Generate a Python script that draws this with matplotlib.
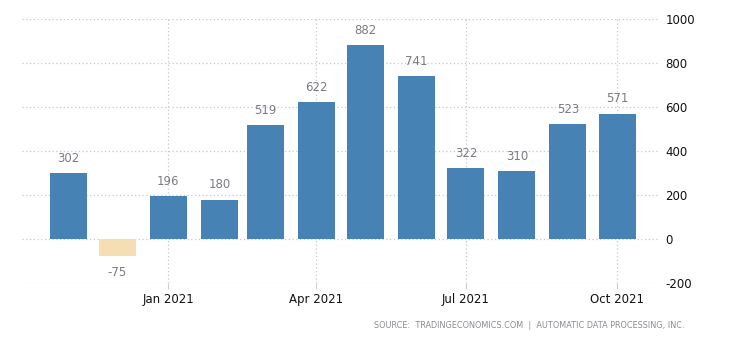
import matplotlib
matplotlib.use("Agg")
import matplotlib.pyplot as plt
import matplotlib.dates as mdates
import datetime as dt

plt.rcParams["axes.unicode_minus"] = False

months = ["2020-11", "2020-12", "2021-01", "2021-02", "2021-03", "2021-04",
          "2021-05", "2021-06", "2021-07", "2021-08", "2021-09", "2021-10"]
values = [302, -75, 196, 180, 519, 622, 882, 741, 322, 310, 523, 571]
tick_months = ["2021-01", "2021-04", "2021-07", "2021-10"]
tick_labels = ["Jan 2021", "Apr 2021", "Jul 2021", "Oct 2021"]
y_ticks = [-200, 0, 200, 400, 600, 800, 1000]
source = "SOURCE:  TRADINGECONOMICS.COM  |  AUTOMATIC DATA PROCESSING, INC."

def to_date(s):
    y, m = s.split("-")
    return dt.date(int(y), int(m), 1)

dates = [to_date(m) for m in months]
xnum = mdates.date2num(dates)
ticks = mdates.date2num([to_date(m) for m in tick_months])

fig = plt.figure(figsize=(7.3, 3.4), dpi=100)
W, H = 730, 340
ax = fig.add_axes([22 / W, (H - 283.3) / H, (660 - 22) / W, (283.3 - 19.3) / H])

colors = ["#4682B4" if v >= 0 else "#F5DEB3" for v in values]
ax.bar(xnum, values, width=22.5, color=colors, zorder=3)

for x, v in zip(xnum, values):
    if v >= 0:
        ax.annotate(str(v), (x, v), xytext=(0, 6), textcoords="offset points",
                    ha="center", va="bottom", fontsize=8.5, color="#7a7a85")
    else:
        ax.annotate(str(v), (x, v), xytext=(0, -7), textcoords="offset points",
                    ha="center", va="top", fontsize=8.5, color="#7a7a85")

ax.set_xlim(mdates.date2num(dt.date(2020, 10, 4)), mdates.date2num(dt.date(2021, 10, 27)))
ax.set_ylim(-200, 1000)
ax.set_xticks(ticks)
ax.set_xticklabels(tick_labels)
ax.set_yticks(y_ticks)
ax.yaxis.tick_right()
ax.tick_params(axis="y", length=0, pad=4, labelsize=8.5, labelcolor="#111111")
ax.tick_params(axis="x", length=4, color="#cccccc", pad=3, labelsize=8.5, labelcolor="#111111")
ax.grid(True, linestyle=(0, (1, 2)), color="#c8c8c8", linewidth=0.9, zorder=0)
for s in ax.spines.values():
    s.set_visible(False)

fig.text(684 / W, 1 - 325 / H, source, ha="right", va="center", fontsize=5.9, color="#8a8a95")

fig.savefig("out.png", dpi=100)
